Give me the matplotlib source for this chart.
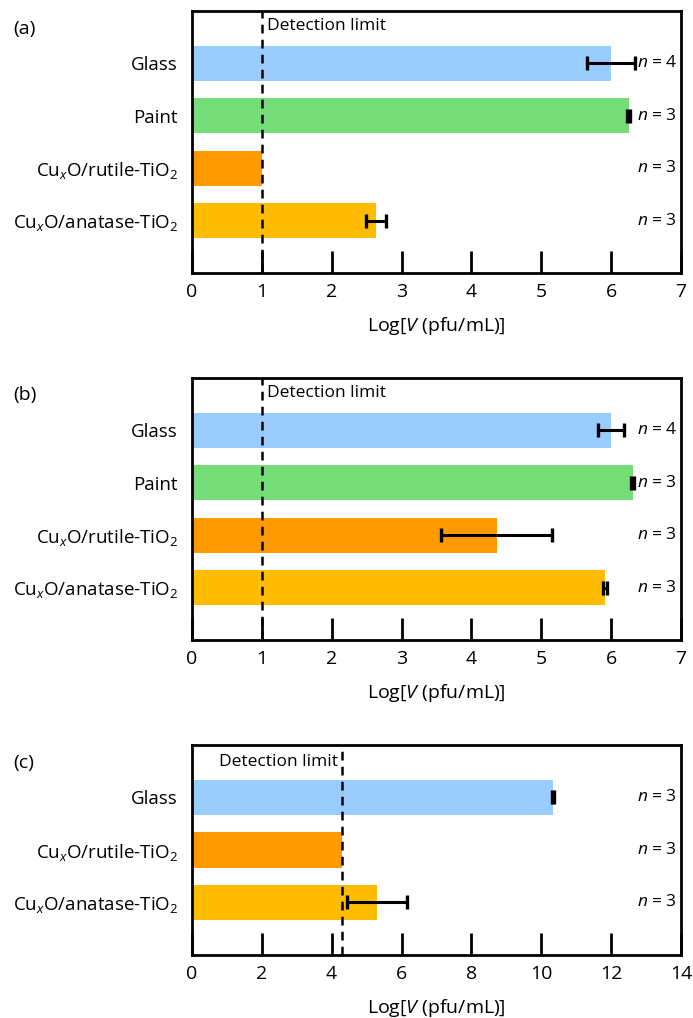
import matplotlib
matplotlib.use('Agg')
import matplotlib.pyplot as plt

plt.rcParams['font.family'] = ['Open Sans', 'DejaVu Sans']
plt.rcParams['mathtext.fontset'] = 'custom'
plt.rcParams['mathtext.rm'] = 'Open Sans'
plt.rcParams['mathtext.it'] = 'Open Sans:italic'

# data
labels_ab = ['Glass', 'Paint', r'Cu$_{x}$O/rutile-TiO$_2$', r'Cu$_{x}$O/anatase-TiO$_2$']
labels_c = ['Glass', r'Cu$_{x}$O/rutile-TiO$_2$', r'Cu$_{x}$O/anatase-TiO$_2$']
colors_ab = ['#99CCFF', '#75DE78', '#FF9A00', '#FFBC00']
colors_c = ['#99CCFF', '#FF9A00', '#FFBC00']

vals_a = [6.0, 6.25, 1.0, 2.63]
err_a = [0.34, 0.02, 0.0, 0.145]
n_a = [4, 3, 3, 3]

vals_b = [6.0, 6.31, 4.36, 5.91]
err_b = [0.19, 0.02, 0.80, 0.025]
n_b = [4, 3, 3, 3]

vals_c = [10.34, 4.31, 5.3]
err_c = [0.02, 0.0, 0.87]
n_c = [3, 3, 3]

det_ab = 1.0
det_c = 4.31

fig = plt.figure(figsize=(6.93, 10.18), dpi=100)

panels = [
    ('(a)', [0.277, 0.7318, 0.7056, 0.2574], 29, labels_ab, colors_ab, vals_a, err_a, n_a, det_ab, 7, 1),
    ('(b)', [0.277, 0.3713, 0.7056, 0.2574], 395, labels_ab, colors_ab, vals_b, err_b, n_b, det_ab, 7, 1),
    ('(c)', [0.277, 0.0619, 0.7056, 0.2063], 763, labels_c, colors_c, vals_c, err_c, n_c, det_c, 14, 2),
]

for tag, rect, tag_y, labels, cols, vals, errs, ns, det, xmax, step in panels:
    ax = fig.add_axes(rect)
    ypos = list(range(len(vals)))
    ax.barh(ypos, vals, height=0.67, color=cols, zorder=1)
    for y, v, e in zip(ypos, vals, errs):
        if e > 0:
            ax.errorbar(v, y, xerr=e, fmt='none', ecolor='black', elinewidth=2.2,
                        capsize=5, capthick=2.4, zorder=3)
    for y, n in zip(ypos, ns):
        ax.text(0.911, y, r'$n$ = %d' % n, transform=ax.get_yaxis_transform(),
                ha='left', va='center', fontsize=12.5)
    ax.axvline(det, color='black', linestyle=(0, (3.5, 2.5)), linewidth=1.8, zorder=2)
    if tag == '(c)':
        ax.text(det - 0.12, -0.68, 'Detection limit', ha='right', va='center', fontsize=12.5)
    else:
        ax.text(det + 0.08, -0.72, 'Detection limit', ha='left', va='center', fontsize=12.5)
    ax.set_xlim(0, xmax)
    ax.set_ylim(len(vals), -1)
    ax.set_xticks(range(0, xmax + 1, step))
    ax.set_yticks(ypos)
    ax.set_yticklabels(labels, fontsize=13.5)
    ax.tick_params(axis='y', length=0, pad=10)
    ax.tick_params(axis='x', direction='in', length=16, width=2, labelsize=14, pad=7)
    ax.set_xlabel(r'Log[$V$ (pfu/mL)]', fontsize=14, labelpad=10)
    for s in ax.spines.values():
        s.set_linewidth(2)
    fig.text(13 / 693, 1 - tag_y / 1018, tag, ha='left', va='center', fontsize=14)

plt.savefig('out.png', dpi=100)
